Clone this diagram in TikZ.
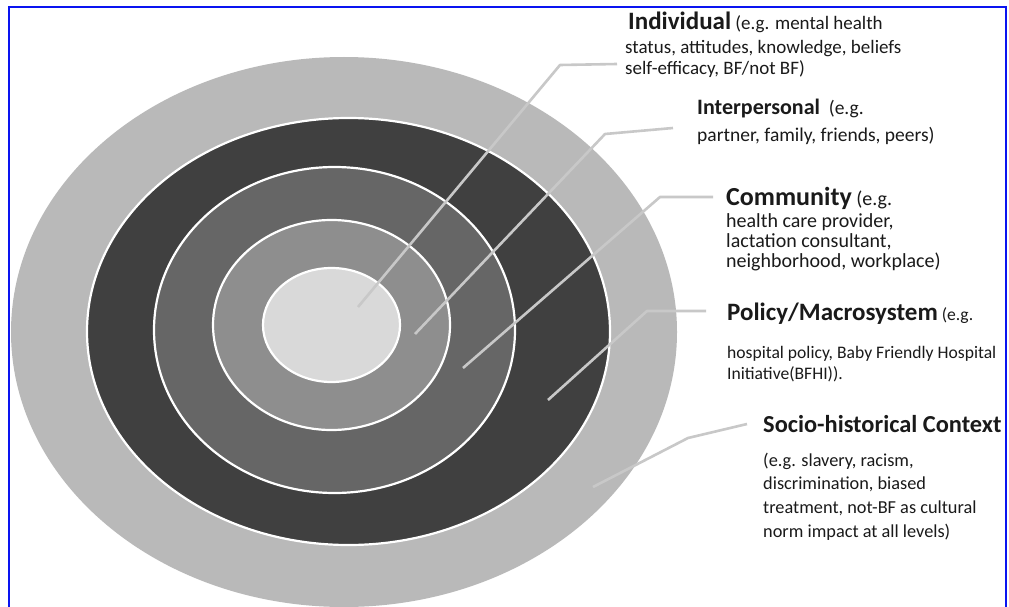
\documentclass[tikz,border=0pt]{standalone}
\usepackage{fontspec}
\setmainfont{Carlito}
\definecolor{ringA}{HTML}{B9B9B9}
\definecolor{ringB}{HTML}{404040}
\definecolor{ringC}{HTML}{666666}
\definecolor{ringD}{HTML}{8E8E8E}
\definecolor{ringE}{HTML}{D9D9D9}
\definecolor{leader}{HTML}{C8C8C8}
\definecolor{frameblue}{HTML}{0A14F0}
\definecolor{txt}{HTML}{1A1A1A}
\tikzset{
  ring/.style={draw=white, line width=2.2pt},
  leadline/.style={draw=leader, line width=2.6pt, line join=round},
  lbl/.style={anchor=base west, inner sep=0pt, text=txt}
}
\newcommand{\hsz}[1]{\fontsize{#1}{#1}\selectfont}
\begin{document}
\begin{tikzpicture}[x=1pt,y=-1pt]
\useasboundingbox (0,0) rectangle (1009,607);
\fill[white] (0,0) rectangle (1009,607);
% frame
\draw[frameblue, line width=2pt] (8.5,610) -- (8.5,7.5) -- (1006,7.5) -- (1006,610);
% rings
\fill[ringA] (344,332) ellipse [x radius=333, y radius=275];
\filldraw[ring, fill=ringB] (348.5,331.5) ellipse [x radius=261.5, y radius=213.5];
\filldraw[ring, fill=ringC] (334.5,330) ellipse [x radius=180.5, y radius=163];
\filldraw[ring, fill=ringD] (331.5,325) ellipse [x radius=118.5, y radius=105];
\filldraw[ring, fill=ringE] (331.5,325) ellipse [x radius=68.5, y radius=57];
% labels
\node[lbl] (ind1) at (628,30) {{\hsz{25}\bfseries Individual}{\hsz{19} (e.g. mental health}};
\node[lbl] (ind2) at (625,54) {\hsz{19}status, attitudes, knowledge, beliefs};
\node[lbl] (ind3) at (625,75) {\hsz{19}self-efficacy, BF/not BF)};
\node[lbl] (int1) at (697,115) {{\hsz{22}\bfseries Interpersonal}{\hsz{19.5}\ \ (e.g.}};
\node[lbl] (int2) at (697,142) {\hsz{19.5}partner, family, friends, peers)};
\node[lbl] (com1) at (726,205) {{\hsz{26}\bfseries Community}{\hsz{20} (e.g.}};
\node[lbl] (com2) at (726,227) {\hsz{20}health care provider,};
\node[lbl] (com3) at (726,247) {\hsz{20}lactation consultant,};
\node[lbl] (com4) at (726,267) {\hsz{20}neighborhood, workplace)};
\node[lbl] (pol1) at (727,320) {{\hsz{25}\bfseries Policy/Macrosystem}{\hsz{17.6} (e.g.}};
\node[lbl] (pol2) at (727,358) {\hsz{17.6}hospital policy, Baby Friendly Hospital};
\node[lbl] (pol3) at (727,379) {\hsz{17.6}Initiative(BFHI)).};
\node[lbl] (soc1) at (763,432) {\hsz{24.4}\bfseries Socio-historical Context};
\node[lbl] (soc2) at (763,466) {\hsz{18.3}(e.g. slavery, racism,};
\node[lbl] (soc3) at (763,489) {\hsz{18.3}discrimination, biased};
\node[lbl] (soc4) at (763,513) {\hsz{18.3}treatment, not-BF as cultural};
\node[lbl] (soc5) at (763,537) {\hsz{18.3}norm impact at all levels)};
% leader coordinates
\coordinate (indS) at (358,307);
\coordinate (indB) at (560,65);
\coordinate (indE) at (617,64);
\coordinate (intS) at (415,334);
\coordinate (intB) at (605,134);
\coordinate (intE) at (673,128);
\coordinate (comS) at (463,368);
\coordinate (comB) at (660,197);
\coordinate (comE) at (713,197);
\coordinate (polS) at (548,400);
\coordinate (polB) at (647,311);
\coordinate (polE) at (706,311);
\coordinate (socS) at (593,487);
\coordinate (socB) at (688,438);
\coordinate (socE) at (747,424);
\draw[leadline] (indS) -- (indB) -- (indE);
\draw[leadline] (intS) -- (intB) -- (intE);
\draw[leadline] (comS) -- (comB) -- (comE);
\draw[leadline] (polS) -- (polB) -- (polE);
\draw[leadline] (socS) -- (socB) -- (socE);
\end{tikzpicture}
\end{document}
